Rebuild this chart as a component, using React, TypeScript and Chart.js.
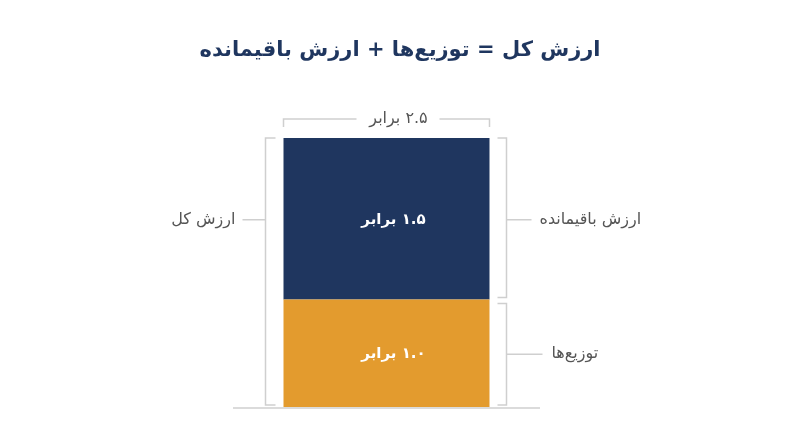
import { useEffect, useRef } from 'react';
import { Chart, registerables, type Plugin } from 'chart.js';

Chart.register(...registerables);

const titleText = 'ارزش کل = توزیع‌ها + ارزش باقیمانده';
const categories = ['ارزش کل'];
const segmentNames = ['توزیع‌ها', 'ارزش باقیمانده'];
const segmentValues = [1.0, 1.5];
const segmentLabels = ['۱.۰ برابر', '۱.۵ برابر'];
const segmentColors = ['#e39b2e', '#1f365f'];
const totalLabel = '۲.۵ برابر';

const FONT = '"DejaVu Sans", "Noto Sans", sans-serif';
const LINE = '#cfcfcf';
const TEXT = '#555555';

const annotations: Plugin<'bar'> = {
    id: 'annotations',
    afterDraw(chart) {
        const { ctx, chartArea } = chart;
        const y = chart.scales.y;
        const bottomBar: any = chart.getDatasetMeta(0).data[0];
        const topBar: any = chart.getDatasetMeta(1).data[0];
        const left = bottomBar.x - bottomBar.width / 2;
        const right = bottomBar.x + bottomBar.width / 2;
        const cx = bottomBar.x;
        const base = y.getPixelForValue(0);
        const mid = bottomBar.y;
        const top = topBar.y;
        const upperMid = (top + mid) / 2 + 1;
        const lowerMid = (mid + base) / 2 + 1;

        ctx.save();
        ctx.direction = 'rtl';
        ctx.textBaseline = 'middle';

        // title
        ctx.fillStyle = '#1f365f';
        ctx.font = `bold 21px ${FONT}`;
        ctx.textAlign = 'center';
        ctx.fillText(titleText, 400, 51);

        // baseline
        ctx.strokeStyle = LINE;
        ctx.lineWidth = 1.5;
        ctx.beginPath();
        ctx.moveTo(chartArea.left, base + 1);
        ctx.lineTo(chartArea.right, base + 1);
        ctx.stroke();

        // left bracket (total)
        const lx = left - 18;
        ctx.beginPath();
        ctx.moveTo(lx + 10, top);
        ctx.lineTo(lx, top);
        ctx.lineTo(lx, base - 2);
        ctx.lineTo(lx + 10, base - 2);
        ctx.moveTo(lx, upperMid);
        ctx.lineTo(lx - 23, upperMid);
        ctx.stroke();

        // right brackets (segments)
        const rx = right + 17;
        ctx.beginPath();
        ctx.moveTo(rx - 9, top);
        ctx.lineTo(rx, top);
        ctx.lineTo(rx, mid - 2);
        ctx.lineTo(rx - 9, mid - 2);
        ctx.moveTo(rx, upperMid);
        ctx.lineTo(rx + 25, upperMid);
        ctx.moveTo(rx - 9, mid + 4);
        ctx.lineTo(rx, mid + 4);
        ctx.lineTo(rx, base - 2);
        ctx.lineTo(rx - 9, base - 2);
        ctx.moveTo(rx, lowerMid);
        ctx.lineTo(rx + 36, lowerMid);
        ctx.stroke();

        // top bracket (total width)
        const ty = top - 19;
        ctx.beginPath();
        ctx.moveTo(left, ty + 8);
        ctx.lineTo(left, ty);
        ctx.lineTo(cx - 30, ty);
        ctx.moveTo(cx + 53, ty);
        ctx.lineTo(right, ty);
        ctx.lineTo(right, ty + 8);
        ctx.stroke();

        ctx.fillStyle = TEXT;
        ctx.font = `16px ${FONT}`;
        ctx.textAlign = 'center';
        ctx.fillText(totalLabel, cx + 12, ty);

        ctx.textAlign = 'right';
        ctx.fillText(categories[0], lx - 30, upperMid);

        ctx.textAlign = 'left';
        ctx.fillText(segmentNames[1], rx + 33, upperMid);
        ctx.fillText(segmentNames[0], rx + 45, lowerMid);

        // values inside the bar
        ctx.fillStyle = '#ffffff';
        ctx.font = `bold 15px ${FONT}`;
        ctx.textAlign = 'center';
        ctx.fillText(segmentLabels[1], cx + 7, upperMid);
        ctx.fillText(segmentLabels[0], cx + 7, lowerMid);

        ctx.restore();
    }
};

export default function App() {
    const canvas = useRef<HTMLCanvasElement>(null);

    useEffect(() => {
        document.body.style.margin = '0';
        const chart = new Chart(canvas.current!, {
            type: 'bar',
            data: {
                labels: categories,
                datasets: segmentNames.map((name, i) => ({
                    label: name,
                    data: [segmentValues[i]],
                    backgroundColor: segmentColors[i],
                    borderWidth: 0,
                    categoryPercentage: 1,
                    barPercentage: 0.671,
                })),
            },
            options: {
                animation: false,
                responsive: true,
                maintainAspectRatio: false,
                layout: { padding: { left: 233, right: 260, top: 138, bottom: 40 } },
                plugins: {
                    legend: { display: false },
                    tooltip: { enabled: false },
                },
                scales: {
                    x: { display: false, stacked: true },
                    y: { display: false, stacked: true, min: 0, max: 2.5 },
                },
            },
            plugins: [annotations],
        });
        return () => {
            chart.destroy();
        };
    }, []);

    return (
        <div style={{ position: 'relative', width: 800, height: 447, background: '#ffffff' }}>
            <canvas ref={canvas} role="img" aria-label={titleText}></canvas>
        </div>
    );
}
